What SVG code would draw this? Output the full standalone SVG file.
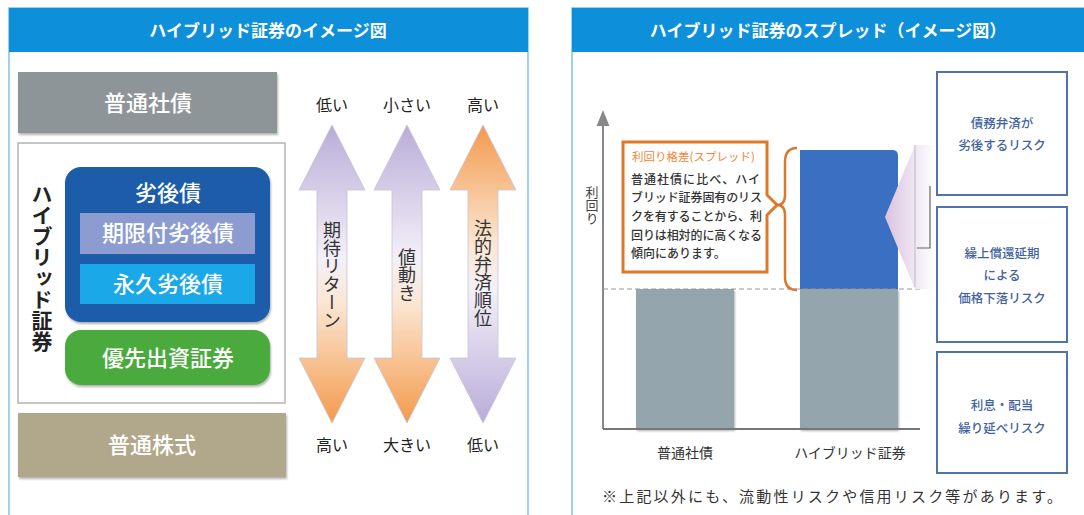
<svg xmlns="http://www.w3.org/2000/svg" width="1084" height="515" viewBox="0 0 1084 515">
<style>
.jp{font-family:"Noto Sans CJK JP","Noto Sans CJK SC",sans-serif;}
.hdr{font-size:17px;font-weight:bold;fill:#ffffff;text-anchor:middle;}
.wt{font-size:22px;fill:#ffffff;text-anchor:middle;font-weight:500;}
.lbl{font-size:16px;fill:#222;text-anchor:middle;}
.vt{writing-mode:vertical-rl;text-anchor:middle;font-size:18px;fill:#333;}
.risk{font-size:12.5px;fill:#3f62a0;text-anchor:middle;font-weight:500;}
.body{font-size:12px;fill:#333;font-weight:500;}
</style>
<defs>
<linearGradient id="gLO" x1="0" y1="0" x2="0" y2="1">
<stop offset="0" stop-color="#b9acd9"/><stop offset="0.45" stop-color="#f4f0f8"/><stop offset="0.6" stop-color="#fbe6d2"/><stop offset="1" stop-color="#f39a4c"/>
</linearGradient>
<linearGradient id="gOL" x1="0" y1="0" x2="0" y2="1">
<stop offset="0" stop-color="#f39a4c"/><stop offset="0.4" stop-color="#fbe6d2"/><stop offset="0.55" stop-color="#f4f0f8"/><stop offset="1" stop-color="#b9acd9"/>
</linearGradient>
<linearGradient id="gPk" x1="0" y1="0" x2="1" y2="0">
<stop offset="0" stop-color="#d9c2e0"/><stop offset="1" stop-color="#ffffff"/>
</linearGradient>
<marker id="ah" viewBox="0 0 10 10" refX="5" refY="5" markerWidth="8" markerHeight="10" orient="auto">
<path d="M0,1 L10,5 L0,9 Z" fill="#888"/>
</marker>
<filter id="sh" x="-5%" y="-5%" width="110%" height="120%"><feDropShadow dx="1" dy="2" stdDeviation="1.2" flood-color="#000" flood-opacity="0.3"/></filter>
</defs>

<!-- Left panel -->
<g id="left-panel">
<rect x="9" y="8" width="519" height="520" fill="#ffffff" stroke="#7cc4ea" stroke-width="1.5"/>
<rect x="9" y="8" width="519" height="44" fill="#0e8fd9"/>
<text class="jp hdr" x="268" y="37">ハイブリッド証券のイメージ図</text>
</g>

<g id="node-futsu-shasai">
<rect x="18" y="72" width="259" height="61" fill="#8e9598" filter="url(#sh)"/>
<text class="jp wt" x="148" y="111">普通社債</text>
</g>

<g id="node-hybrid">
<rect x="18" y="143" width="267" height="260" fill="#ffffff" stroke="#b4b4b4" stroke-width="1.5"/>
<text class="jp" x="42" y="268" style="writing-mode:vertical-rl;text-anchor:middle;font-size:21px;font-weight:bold;fill:#222;">ハイブリッド証券</text>
</g>

<g id="node-retsugo">
<rect x="65" y="167" width="205" height="155" rx="16" fill="#1c5ca8" filter="url(#sh)"/>
<text class="jp wt" x="168" y="201">劣後債</text>
</g>
<g id="node-kigen">
<rect x="80" y="213" width="175" height="41" fill="#8c9cd1"/>
<text class="jp wt" x="168" y="241">期限付劣後債</text>
</g>
<g id="node-eikyu">
<rect x="80" y="264" width="175" height="40" fill="#1ba8e8"/>
<text class="jp wt" x="168" y="292">永久劣後債</text>
</g>
<g id="node-yusen">
<rect x="65" y="330" width="205" height="55" rx="16" fill="#4caa3c" filter="url(#sh)"/>
<text class="jp wt" x="168" y="366">優先出資証券</text>
</g>
<g id="node-kabushiki">
<rect x="18" y="413" width="268" height="64" fill="#b1a78a" filter="url(#sh)"/>
<text class="jp wt" x="152" y="453">普通株式</text>
</g>

<g id="arrows-left">
<path d="M332,125 L365,190 L347,190 L347,358 L365,358 L332,423 L299,358 L317,358 L317,190 L299,190 Z" fill="url(#gLO)" stroke="#c9c3d6" stroke-width="0.8"/>
<path d="M407,125 L440,190 L422,190 L422,358 L440,358 L407,423 L374,358 L392,358 L392,190 L374,190 Z" fill="url(#gLO)" stroke="#c9c3d6" stroke-width="0.8"/>
<path d="M483,125 L516,190 L498,190 L498,358 L516,358 L483,423 L450,358 L468,358 L468,190 L450,190 Z" fill="url(#gOL)" stroke="#c9c3d6" stroke-width="0.8"/>
<text class="jp vt" x="332" y="275">期待リターン</text>
<text class="jp vt" x="407" y="275">値動き</text>
<text class="jp vt" x="483" y="273">法的弁済順位</text>
<text class="jp lbl" x="332" y="111">低い</text>
<text class="jp lbl" x="407" y="111">小さい</text>
<text class="jp lbl" x="483" y="111">高い</text>
<text class="jp lbl" x="332" y="451">高い</text>
<text class="jp lbl" x="407" y="451">大きい</text>
<text class="jp lbl" x="483" y="451">低い</text>
</g>

<!-- Right panel -->
<g id="right-panel">
<rect x="572" y="8" width="530" height="520" fill="#ffffff" stroke="#7cc4ea" stroke-width="1.5"/>
<rect x="572" y="8" width="530" height="44" fill="#0e8fd9"/>
<text class="jp hdr" x="828" y="37">ハイブリッド証券のスプレッド（イメージ図）</text>
</g>

<g id="chart">
<line x1="603" y1="429" x2="603" y2="118" stroke="#888" stroke-width="2" marker-end="url(#ah)"/>
<text class="jp" x="592" y="205" style="writing-mode:vertical-rl;text-anchor:middle;font-size:13px;fill:#444;">利回り</text>
<rect x="636" y="289" width="98" height="140" fill="#95a5ad" filter="url(#sh)"/>
<rect x="800" y="289" width="98" height="140" fill="#95a5ad" filter="url(#sh)"/>
<path d="M800,150 L893,150 Q898,150 898,156 L898,289 L800,289 Z" fill="#3b6fc2"/>
<line x1="603" y1="289" x2="920" y2="289" stroke="#999" stroke-width="1.2" stroke-dasharray="5,3"/>
<line x1="603" y1="429" x2="920" y2="429" stroke="#777" stroke-width="2"/>
<text class="jp" x="685" y="458" style="font-size:14px;fill:#333;text-anchor:middle;">普通社債</text>
<text class="jp" x="850" y="458" style="font-size:14px;fill:#333;text-anchor:middle;">ハイブリッド証券</text>
</g>

<g id="spread-arrow">
<polygon points="885,217 915,145 935,145 935,289 915,289" fill="url(#gPk)"/>
<line x1="915" y1="145" x2="915" y2="287" stroke="#bbb" stroke-width="1"/>
<polyline points="930,186 930,248 917,248" fill="none" stroke="#666" stroke-width="1.2"/>
</g>

<g id="callout">
<path d="M623,142 L767,142 L767,195 L777,205 L767,215 L767,272 L623,272 Z" fill="#ffffff" stroke="#e0782a" stroke-width="3"/>
<text class="jp" x="632" y="161" style="font-size:11.5px;fill:#f0883a;">利回り格差(スプレッド)</text>
<text class="jp body" x="631" y="184" textLength="129" lengthAdjust="spacing">普通社債に比べ、ハイ</text>
<text class="jp body" x="631" y="202" textLength="131" lengthAdjust="spacing">ブリッド証券固有のリス</text>
<text class="jp body" x="631" y="221" textLength="131" lengthAdjust="spacing">クを有することから、利</text>
<text class="jp body" x="631" y="240" textLength="131" lengthAdjust="spacing">回りは相対的に高くなる</text>
<text class="jp body" x="631" y="258">傾向にあります。</text>
</g>

<g id="brace">
<path d="M797,148 Q785,148 785,162 L785,195 Q785,205 777,205 Q785,205 785,215 L785,277 Q785,290 797,290" fill="none" stroke="#d9782f" stroke-width="2.5"/>
</g>

<g id="risk1">
<rect x="937" y="72" width="130" height="123" fill="#ffffff" stroke="#5273aa" stroke-width="2"/>
<text class="jp risk" x="1002" y="128">債務弁済が</text>
<text class="jp risk" x="1002" y="150">劣後するリスク</text>
</g>
<g id="risk2">
<rect x="937" y="207" width="130" height="135" fill="#ffffff" stroke="#5273aa" stroke-width="2"/>
<text class="jp risk" x="1002" y="258">繰上償還延期</text>
<text class="jp risk" x="1002" y="280">による</text>
<text class="jp risk" x="1002" y="303">価格下落リスク</text>
</g>
<g id="risk3">
<rect x="937" y="352" width="130" height="121" fill="#ffffff" stroke="#5273aa" stroke-width="2"/>
<text class="jp risk" x="1002" y="410">利息・配当</text>
<text class="jp risk" x="1002" y="433">繰り延べリスク</text>
</g>

<text class="jp" x="602" y="502" style="font-size:15px;fill:#333;" textLength="460" lengthAdjust="spacing">※上記以外にも、流動性リスクや信用リスク等があります。</text>
</svg>
